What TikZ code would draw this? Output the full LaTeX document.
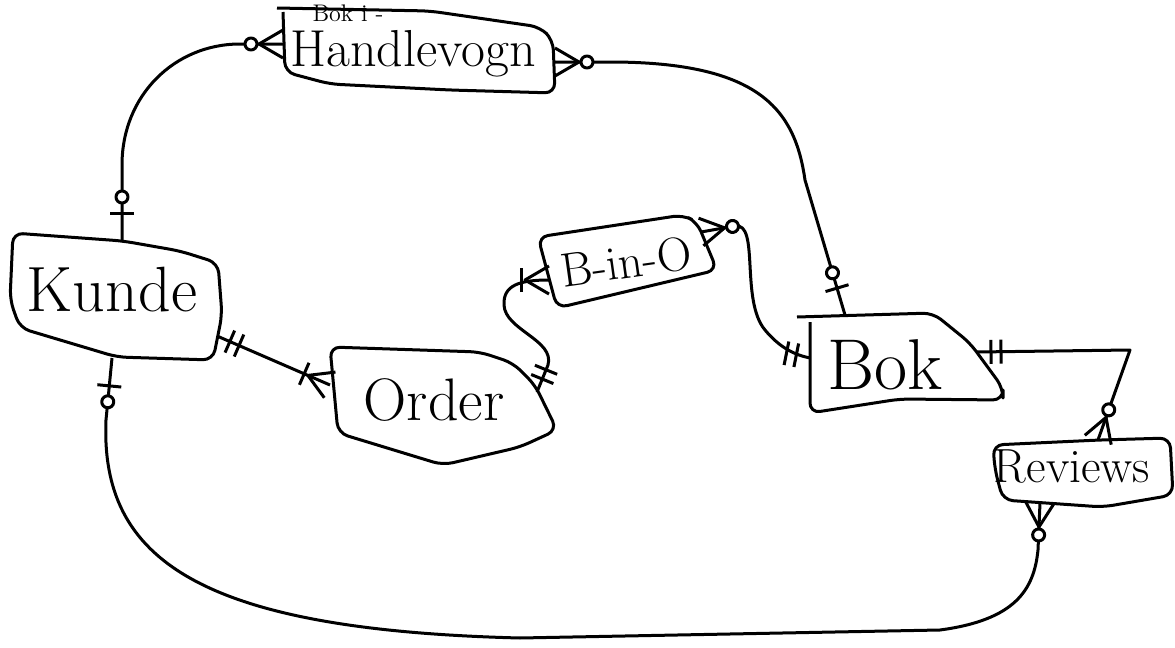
\documentclass[tikz,border=0pt]{standalone}
\usetikzlibrary{decorations.markings}

\tikzset{
    entity/.style={draw, rounded corners=5pt},
    ename/.style={font=\fontsize{#1}{#1}\selectfont},
    % end symbols, drawn outward from the entity along +x
    zeroone/.pic={
        \draw (14pt, -6pt) -- (14pt, 6pt);
        \draw[fill=white] (22pt, 0) circle (3pt);
    },
    zeromany/.pic={
        \draw (0, 7pt) -- (12pt, 0) -- (0, -7pt);
        \draw[fill=white] (16pt, 0) circle (3pt);
    },
    onemany/.pic={
        \draw (0, 7pt) -- (12pt, 0) -- (0, -7pt);
        \draw (14pt, -6pt) -- (14pt, 6pt);
    },
    oneone/.pic={
        \draw (7pt, -6pt) -- (7pt, 6pt);
        \draw (12pt, -6pt) -- (12pt, 6pt);
    },
    src/.style={postaction={decorate, decoration={markings,
        mark=at position 0 with {\pic[transform shape] {#1};}}}},
    dst/.style={postaction={decorate, decoration={markings,
        mark=at position 1 with {\pic[transform shape, xscale=-1] {#1};}}}},
}

\begin{document}
\begin{tikzpicture}[x=0.5pt, y=-0.5pt, line width=1.5pt, line join=round]
        \useasboundingbox (0, 0) rectangle (1175, 648);

        % entities
        \draw[entity] (277, 8) -- (430, 11) -- (540, 27) -- (553, 40) -- (555, 93)
            -- (450, 90) -- (330, 84) -- (285, 72) -- (283, 12);
        \draw[entity] (13, 233) -- (123, 241) -- (180, 251) -- (218, 263) -- (222, 315)
            -- (213, 360) -- (117, 357) -- (20, 328) -- (10, 300) -- cycle;
        \draw[entity] (330, 347) -- (480, 352) -- (513, 363) -- (535, 385) -- (557, 430)
            -- (520, 447) -- (443, 465) -- (338, 433) -- cycle;
        \draw[entity] (538, 237) -- (683, 215) -- (697, 222) -- (717, 270) -- (557, 308) -- cycle;
        \draw[entity] (797, 317) -- (933, 313) -- (970, 343) -- (1003, 388) -- (1003, 400)
            -- (900, 399) -- (810, 413) -- (810, 322);
        \draw[entity] (993, 445) -- (1100, 440) -- (1170, 438) -- (1173, 495)
            -- (1103, 507) -- (1003, 500) -- (995, 470) -- cycle;

        \node[ename=26] at (413, 54)  (vogn)    {Handlevogn};
        \node[ename=12, inner sep=1pt] at (348, 13) (vognbok) {Bok i -};
        \node[ename=32] at (112, 290) (kunde)   {Kunde};
        \node[ename=30] at (434, 400) (ord)     {Order};
        \node[ename=24, rotate=8] at (626, 262) (bino) {B-in-O};
        \node[ename=36] at (885, 365) (bok)     {Bok};
        \node[ename=24] at (1072, 466) (rev)    {Reviews};

        % attachment points
        \coordinate (vogn w)  at (283, 44);
        \coordinate (vogn e)  at (555, 62);
        \coordinate (kunde n) at (122, 241);
        \coordinate (kunde s) at (112, 358);
        \coordinate (kunde e) at (217, 336);
        \coordinate (ord w)   at (330, 385);
        \coordinate (ord e)   at (537, 392);
        \coordinate (bino w)  at (549, 280);
        \coordinate (bino e)  at (701, 232);
        \coordinate (bok n)   at (845, 315);
        \coordinate (bok w)   at (810, 358);
        \coordinate (bok e)   at (977, 352);
        \coordinate (rev n)   at (1098, 440);
        \coordinate (rev s)   at (1040, 503);

        \draw[src=zeroone, dst=zeromany] (kunde n) -- (122, 165)
            .. controls (122, 95) and (175, 44) .. (240, 44) -- (vogn w);
        \draw[src=zeromany, dst=zeroone] (vogn e) -- (610, 62)
            .. controls (760, 62) and (795, 110) .. (805, 180) -- (bok n);
        \draw[src=zeroone, dst=zeromany] (kunde s) -- (106, 420)
            .. controls (100, 560) and (200, 630) .. (520, 638) -- (940, 630)
            .. controls (1015, 620) and (1034, 590) .. (1038, 550) -- (rev s);
        \draw[src=oneone, dst=onemany]   (kunde e) -- (ord w);
        \draw[src=oneone, dst=onemany]   (ord e) -- (548, 365)
            .. controls (555, 340) and (505, 330) .. (504, 305)
            .. controls (503, 285) and (520, 280) .. (bino w);
        \draw[src=zeromany, dst=oneone]  (bino e) -- (735, 226)
            .. controls (760, 222) and (740, 300) .. (765, 330)
            .. controls (780, 348) and (795, 355) .. (bok w);
        \draw[src=oneone, dst=zeromany]  (bok e) -- (1130, 350) -- (rev n);

    \end{tikzpicture}
\end{document}
